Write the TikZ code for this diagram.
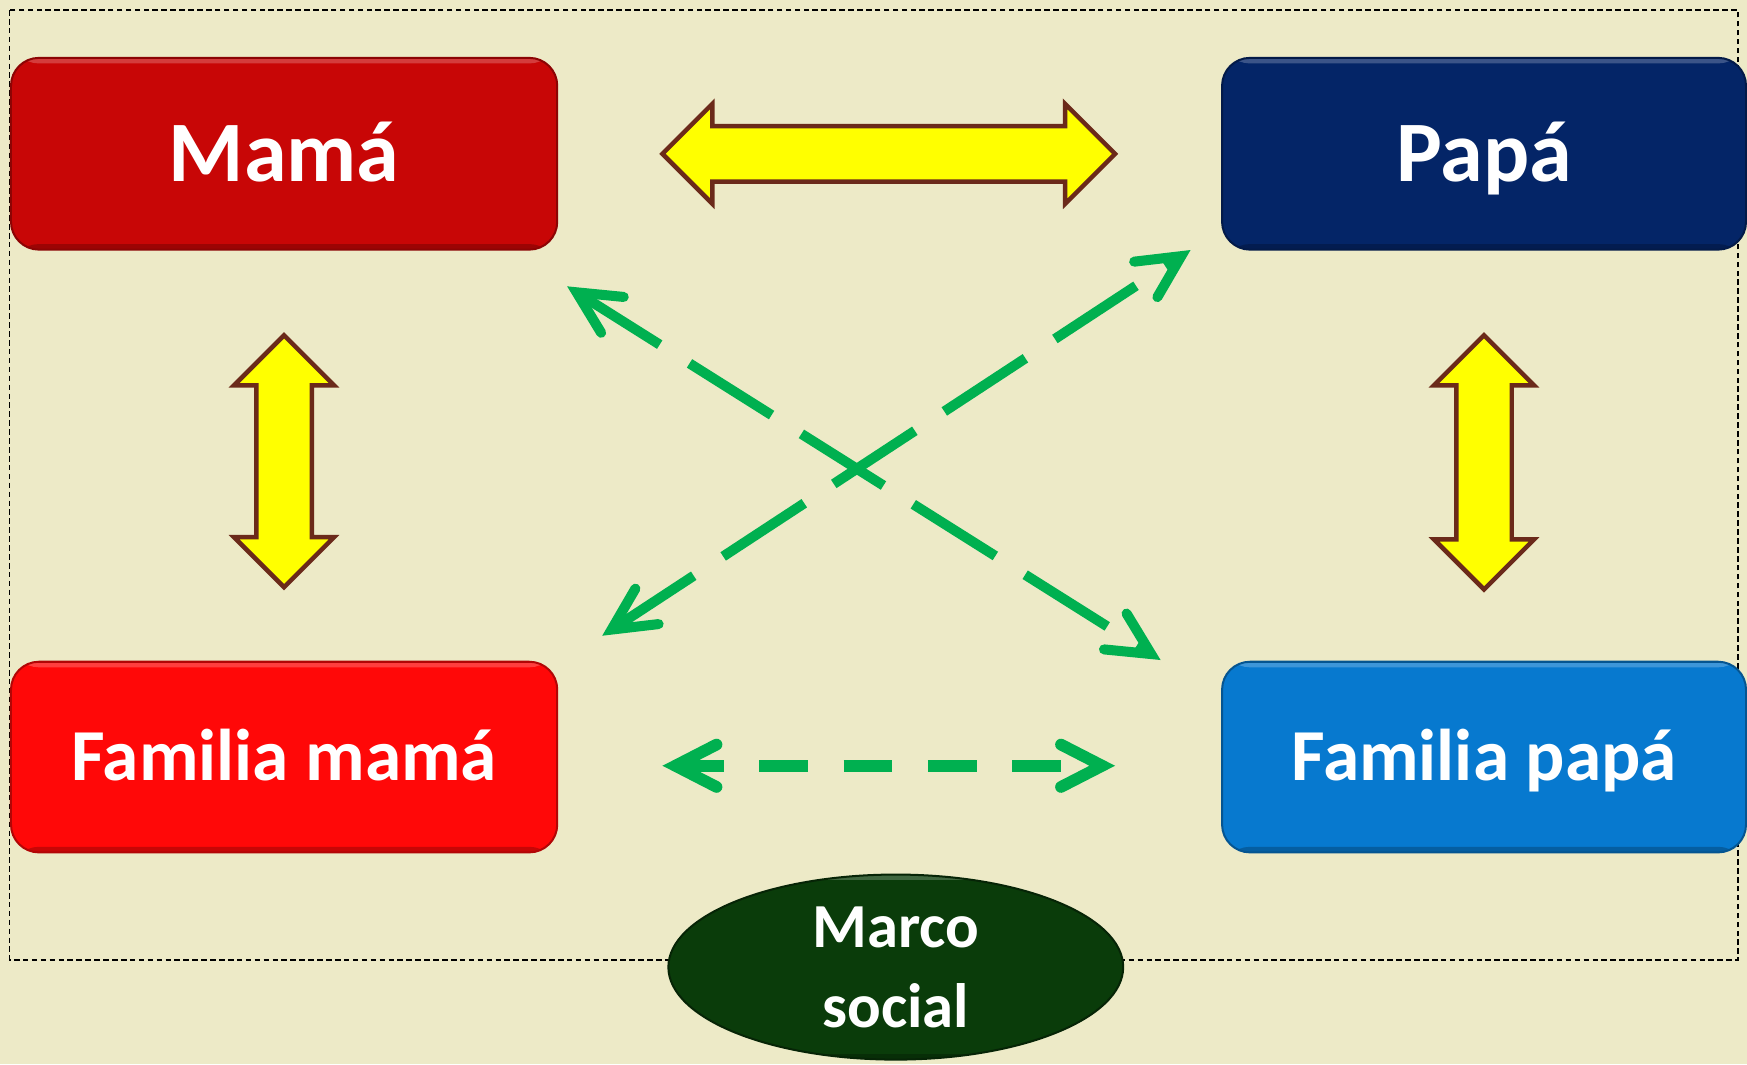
\documentclass[tikz,border=0pt]{standalone}
\usepackage{fontspec}
\setmainfont{Carlito}
\usetikzlibrary{shapes.geometric,shapes.arrows,arrows.meta}
\definecolor{bg}{HTML}{EDEAC7}
\definecolor{mamared}{HTML}{C80606}
\definecolor{papablue}{HTML}{042567}
\definecolor{fmred}{HTML}{FF0808}
\definecolor{fpblue}{HTML}{0779CF}
\definecolor{marcogreen}{HTML}{0A3C0A}
\definecolor{arrowyellow}{HTML}{FFFF00}
\definecolor{arrowbrown}{HTML}{6B2A1A}
\definecolor{lineg}{HTML}{00B050}
\begin{document}
\begin{tikzpicture}[x=0.01cm,y=-0.01cm,
  bevel/.style={path picture={
    \fill[white,opacity=0.22] (path picture bounding box.north west) rectangle ([yshift=-0.05cm]path picture bounding box.north east);
    \fill[black,opacity=0.22] (path picture bounding box.south west) rectangle ([yshift=0.05cm]path picture bounding box.south east);}},
  box/.style={rectangle, rounded corners=0.25cm, minimum height=1.72cm, bevel,
    text=white, inner sep=0pt, line width=0.018cm,
    font=\fontsize{22}{26}\selectfont\bfseries, text height=0.49cm, text depth=0pt},
  famBox/.style={box, minimum height=1.71cm,
    font=\fontsize{18.7}{22}\selectfont\bfseries, text height=0.416cm},
  yarrow/.style={double arrow, double arrow head extend=0.2cm, inner xsep=0pt, inner ysep=0.2285cm,
    fill=arrowyellow, draw=arrowbrown, line width=0.04cm, line join=miter},
  gdiag/.style={draw=lineg, line width=0.09cm, <->,
    >={Straight Barb[length=0.38cm, width=0.38cm, line cap=round, line join=miter]},
    dash pattern=on 0.87cm off 0.316cm, dash phase=1.22cm},
  ghor/.style={draw=lineg, line width=0.105cm, <->,
    >={Straight Barb[length=0.37cm, width=0.38cm, line cap=round, line join=miter]},
    dash pattern=on 0.436cm off 0.32cm, dash phase=0.81cm},
  frame/.style={draw=black, line width=0.012cm, dash pattern=on 0.05cm off 0.03cm}
]
\useasboundingbox (0,0) rectangle (1568,955);
\fill[bg] (0,0) rectangle (1568,955);
\draw[frame] (8.6,9) rectangle (1560,861.6);

% boxes
\node[box, fill=mamared, draw=mamared!70!black, minimum width=4.90cm] (mama) at (255,138) {Mamá};
\node[box, fill=papablue, draw=papablue!70!black, minimum width=4.70cm] (papa) at (1332,138) {Papá};
\node[famBox, fill=fmred, draw=fmred!70!black, minimum width=4.90cm] (fmama) at (255,679.5) {Familia mamá};
\node[famBox, fill=fpblue, draw=fpblue!70!black, minimum width=4.70cm] (fpapa) at (1332,679.5) {Familia papá};

% yellow block arrows
\node[yarrow, minimum height=4.06cm] (ytop) at (797.7,138.1) {};
\node[yarrow, rotate=90, minimum height=2.26cm] (yleft) at (255,414) {};
\node[yarrow, rotate=90, minimum height=2.28cm] (yright) at (1332,415) {};

% green dashed connectors
\coordinate (d1s) at (509,257);
\coordinate (d1e) at (1041.7,592.4);
\coordinate (d2s) at (540.5,570.6);
\coordinate (d2e) at (1068.6,224.4);
\coordinate (hs) at (594.6,687.3);
\coordinate (he) at (1000.8,687.3);
\draw[gdiag] (d1s) -- (d1e);
\draw[gdiag] (d2s) -- (d2e);
\draw[ghor] (hs) -- (he);

% ellipse
\node[ellipse, fill=marcogreen, draw=marcogreen!60!black, line width=0.018cm, bevel,
  minimum width=4.08cm, minimum height=1.66cm, inner sep=0pt, align=center,
  text=white, font=\fontsize{16}{20.5}\selectfont\bfseries] (marco) at (804,868) {Marco\\social};
\end{tikzpicture}
\end{document}
